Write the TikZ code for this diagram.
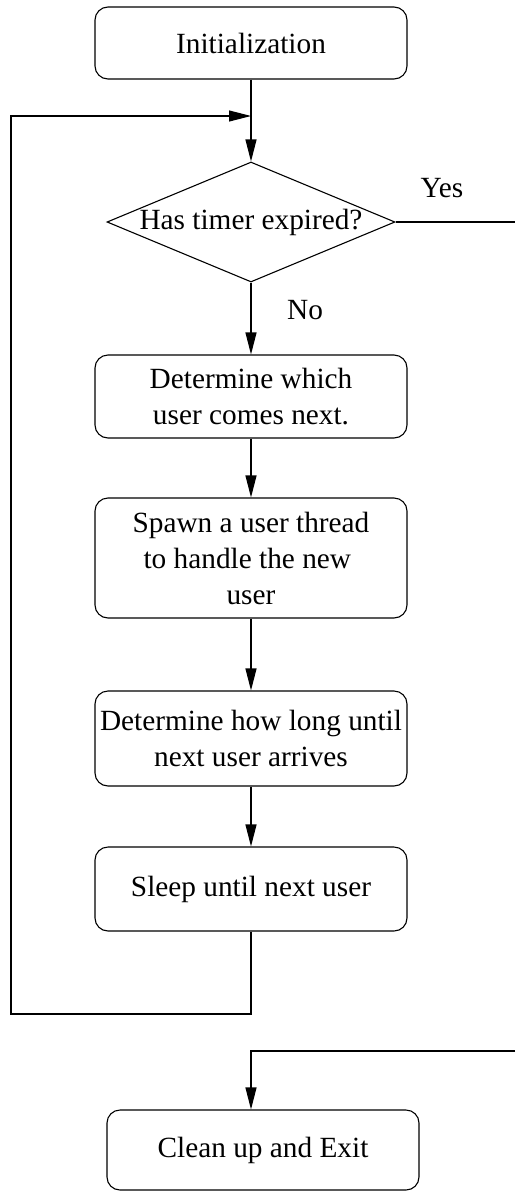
\documentclass[tikz,border=0pt]{standalone}
\usepackage{fontspec}
\setmainfont{Liberation Serif}
\usetikzlibrary{shapes.geometric,arrows.meta}
\begin{document}
\begin{tikzpicture}[x=1pt,y=1pt,
  every node/.style={font=\fontsize{29.3}{36}\selectfont},
  procbox/.style={draw, rounded corners=13pt, minimum width=312pt, inner sep=0pt, align=center, line width=1.1pt},
  decbox/.style={draw, diamond, minimum width=288pt, minimum height=120pt, inner sep=0pt, line width=1.1pt},
  conn/.style={line width=1.1pt},
  arr/.style={conn, -{Triangle[length=22pt,width=11pt]}},
  lbl/.style={anchor=base}]
\useasboundingbox (0,0) rectangle (515,-1192);
\node[procbox, minimum height=72pt] (init) at (251,-43) {Initialization};
\node[decbox] (dec) at (251,-222) {\makebox[0pt]{\raisebox{-4pt}{Has timer expired?}}};
\node[procbox, minimum height=83pt] (det) at (251,-396.5) {\raisebox{-3pt}{Determine which}\\\raisebox{-3pt}{user comes next.}};
\node[procbox, minimum height=120pt] (spawn) at (251,-558) {\raisebox{-3pt}{Spawn a user thread}\\\raisebox{-3pt}{to handle the new\ }\\\raisebox{-3pt}{user}};
\node[procbox, minimum height=95pt] (how) at (251,-738.5) {Determine how long until\\next user arrives};
\node[procbox, minimum height=84pt] (sleep) at (251,-889) {Sleep until next user};
\node[procbox, minimum height=80pt] (clean) at (263,-1150) {Clean up and Exit};
\node[lbl] (yes) at (442,-197) {Yes};
\node[lbl] (no) at (305,-319) {No};
\coordinate (join) at (251,-116);
\coordinate (loopbot) at (251,-1014);
\coordinate (loopleft) at (11,-1014);
\coordinate (looptop) at (11,-116);
\coordinate (yesend) at (515,-222);
\coordinate (exitin) at (515,-1051);
\coordinate (exitturn) at (251,-1051);
\draw[arr] (init.south) -- (dec.north);
\draw[arr] (dec.south) -- (det.north);
\draw[arr] (det.south) -- (spawn.north);
\draw[arr] (spawn.south) -- (how.north);
\draw[arr] (how.south) -- (sleep.north);
\draw[arr] (sleep.south) -- (loopbot) -- (loopleft) -- (looptop) -- (join);
\draw[conn] (dec.east) -- (yesend);
\draw[arr] (exitin) -- (exitturn) -- (clean.north -| exitturn);
\end{tikzpicture}
\end{document}
